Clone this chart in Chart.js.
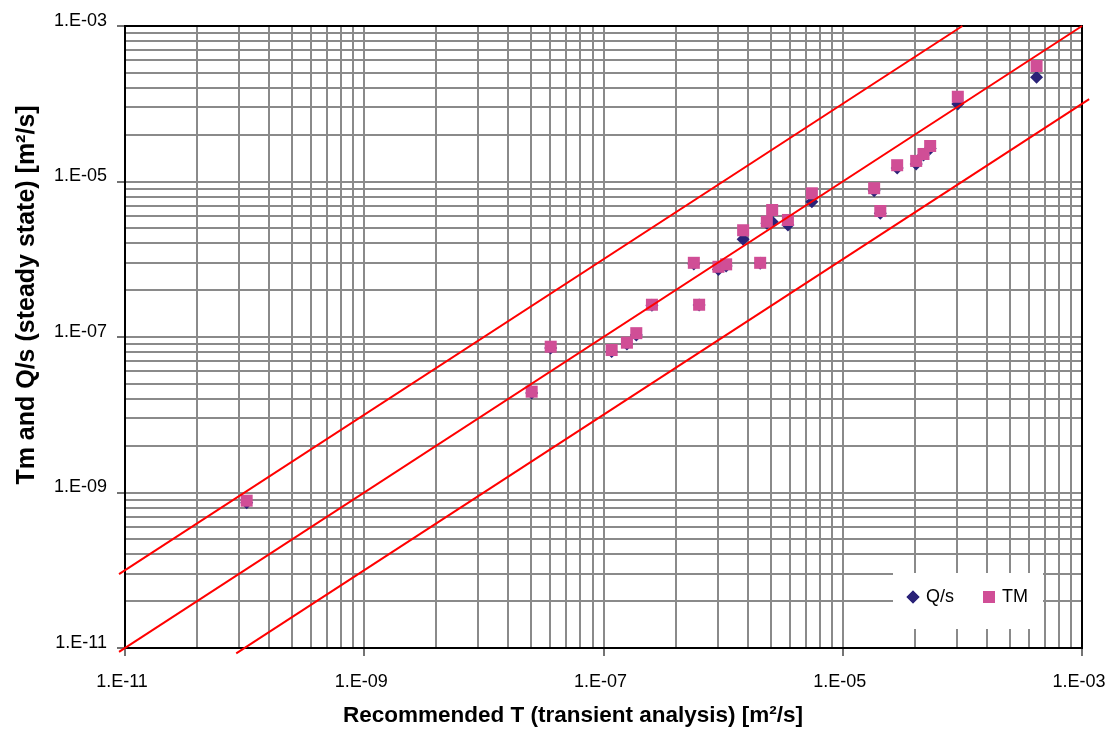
<!DOCTYPE html>
<html>
<head>
<meta charset="utf-8">
<script src="https://cdn.jsdelivr.net/npm/chart.js@4.4.0/dist/chart.umd.min.js"></script>
<style>
  html, body { margin: 0; padding: 0; background: #fff; }
  #wrap { width: 1109px; height: 740px; }
</style>
</head>
<body>
<div id="wrap"><canvas id="tChart" width="1109" height="740"></canvas></div>
<script>
// recommended T (transient) vs steady state estimates, m2/s
const recT = [1.04e-10, 2.51e-8, 3.62e-8, 1.17e-7, 1.57e-7, 1.88e-7, 2.54e-7, 5.69e-7, 6.30e-7, 9.14e-7,
              1.06e-6, 1.47e-6, 2.04e-6, 2.32e-6, 2.57e-6, 3.48e-6, 5.52e-6, 1.83e-5, 2.06e-5, 2.85e-5,
              4.11e-5, 4.73e-5, 5.38e-5, 9.16e-5, 4.17e-4];
const qs = [7.4e-10, 1.90e-8, 7.2e-8, 6.5e-8, 8.1e-8, 1.06e-7, 2.56e-7, 8.7e-7, 2.58e-7, 7.4e-7,
            8.2e-7, 1.81e-6, 8.9e-7, 2.9e-6, 3.04e-6, 2.76e-6, 5.50e-6, 7.6e-6, 3.9e-6, 1.49e-5,
            1.68e-5, 2.2e-5, 2.66e-5, 9.9e-5, 2.19e-4];
const tm = [7.85e-10, 1.98e-8, 7.5e-8, 6.8e-8, 8.45e-8, 1.12e-7, 2.60e-7, 9.0e-7, 2.60e-7, 8.0e-7,
            8.6e-7, 2.36e-6, 9.0e-7, 3.04e-6, 4.30e-6, 3.20e-6, 7.05e-6, 8.2e-6, 4.17e-6, 1.62e-5,
            1.84e-5, 2.26e-5, 2.86e-5, 1.23e-4, 3.06e-4];

// reference lines Tm = f * T, each running between two T values
const lineFactors = [10, 1, 0.1];
const lineStartT = [Math.pow(10, -11.05), Math.pow(10, -11.05), Math.pow(10, -10.07)];
const lineEndT = [1e-4, 1e-3, Math.pow(10, -2.94)];

// axis range in decades, labelled every second decade
const minExp = -11;
const maxExp = -3;

function expLabel(v) {
  const e = Math.round(Math.log10(v));
  return '1.E' + (e < 0 ? '-' : '+') + String(Math.abs(e)).padStart(2, '0');
}

// grid: k^2 steps inside every two-decade span
function spanTicks() {
  const out = [];
  for (let e = minExp; e < maxExp; e += 2) {
    for (let k = 1; k <= 9; k++) {
      out.push({ value: Math.pow(10, e) * k * k, major: k === 1 });
    }
  }
  out.push({ value: Math.pow(10, maxExp), major: true });
  return out;
}

const FONT = "'Liberation Sans', Arial, sans-serif";

function axisOptions(isX) {
  return {
    type: 'logarithmic',
    min: Math.pow(10, minExp),
    max: Math.pow(10, maxExp),
    afterBuildTicks: (scale) => { scale.ticks = spanTicks(); },
    afterFit: (scale) => {
      // fixed axis band, no extra room for overhanging end labels
      if (isX) scale.height = 92; else scale.width = 125;
      scale.paddingLeft = 0;
      scale.paddingRight = 0;
      scale.paddingTop = 0;
      scale.paddingBottom = 0;
    },
    grid: {
      color: '#8a8a8a',
      lineWidth: 2,
      tickLength: 8,
      tickColor: (ctx) => (ctx.tick && ctx.tick.major ? '#444' : 'rgba(0,0,0,0)'),
      tickWidth: 1.5
    },
    border: { color: '#000', width: 2 },
    ticks: {
      autoSkip: false,
      maxRotation: 0,
      minRotation: 0,
      padding: isX ? 15 : 10,
      labelOffset: isX ? -3 : -5,
      color: '#000',
      font: { family: FONT, size: 18 },
      callback: (value, index, ticks) => (ticks[index].major ? expLabel(value) : '')
    },
    title: { display: false }
  };
}

const lineSets = lineFactors.map((f, i) => ({
  label: 'ratio ' + f,
  data: [
    { x: lineStartT[i], y: lineStartT[i] * f },
    { x: lineEndT[i], y: lineEndT[i] * f }
  ],
  showLine: true,
  borderColor: '#ff0000',
  borderWidth: 2,
  pointRadius: 0,
  clip: false,
  order: 0
}));

// frame, inset legend and axis titles
const decorations = {
  id: 'decorations',
  beforeDatasetsDraw(chart) {
    const ctx = chart.ctx;
    const a = chart.chartArea;
    ctx.save();
    // legend box sits on top of the grid
    const bx = a.right - 189, by = a.bottom - 75, bw = 150, bh = 56;
    ctx.fillStyle = '#fff';
    ctx.fillRect(bx, by, bw, bh);
    ctx.font = '18px ' + FONT;
    ctx.textBaseline = 'middle';
    const items = chart.data.datasets.filter(d => d.inLegend);
    let x = bx + 20;
    const y = by + 24;
    items.forEach(d => {
      ctx.fillStyle = d.backgroundColor;
      ctx.beginPath();
      Chart.helpers.drawPoint(ctx, {
        pointStyle: d.pointStyle, radius: d.legendRadius, rotation: 0, borderWidth: 0
      }, x, y);
      ctx.fill();
      ctx.fillStyle = '#000';
      ctx.fillText(d.label, x + 13, y);
      x += 76;
    });
    // plot frame
    ctx.strokeStyle = '#000';
    ctx.lineWidth = 2;
    ctx.strokeRect(a.left, a.top, a.right - a.left, a.bottom - a.top);
    ctx.restore();
  },
  afterDraw(chart) {
    const ctx = chart.ctx;
    ctx.save();
    ctx.fillStyle = '#000';
    ctx.textAlign = 'center';
    ctx.textBaseline = 'middle';
    ctx.font = 'bold 22.5px ' + FONT;
    ctx.fillText('Recommended T (transient analysis) [m\u00b2/s]', 573, 716);
    ctx.font = 'bold 25px ' + FONT;
    ctx.translate(27, 295);
    ctx.rotate(-Math.PI / 2);
    ctx.fillText('Tm and Q/s (steady state) [m\u00b2/s]', 0, 0);
    ctx.restore();
  }
};

new Chart(document.getElementById('tChart'), {
  type: 'scatter',
  data: {
    datasets: [
      ...lineSets,
      {
        label: 'Q/s',
        data: recT.map((t, i) => ({ x: t, y: qs[i] })),
        pointStyle: 'rectRot',
        pointRadius: 6.5,
        backgroundColor: '#2a2278',
        borderWidth: 0,
        inLegend: true,
        legendRadius: 6.5,
        order: 2
      },
      {
        label: 'TM',
        data: recT.map((t, i) => ({ x: t, y: tm[i] })),
        pointStyle: 'rect',
        pointRadius: 8.5,
        backgroundColor: '#d04e96',
        borderWidth: 0,
        inLegend: true,
        legendRadius: 8.5,
        order: 1
      }
    ]
  },
  options: {
    responsive: false,
    animation: false,
    layout: { padding: { top: 26, right: 27, left: 0, bottom: 0 } },
    plugins: {
      legend: { display: false },
      tooltip: { enabled: false }
    },
    scales: {
      x: axisOptions(true),
      y: axisOptions(false)
    }
  },
  plugins: [decorations]
});
</script>
</body>
</html>
